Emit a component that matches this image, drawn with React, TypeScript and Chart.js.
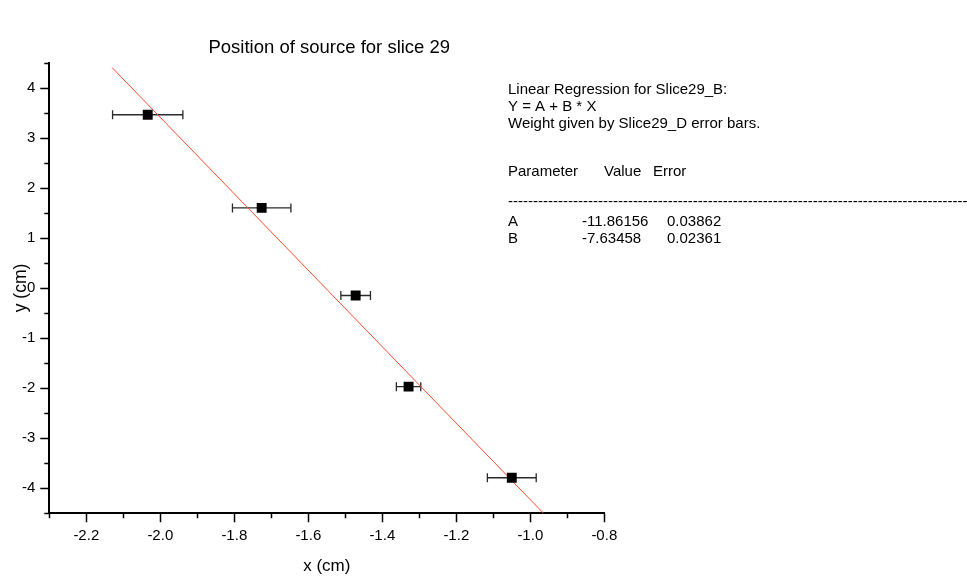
import React, { useEffect, useRef } from 'react';
import { Chart, registerables } from 'chart.js';

Chart.register(...registerables);

// ---- data ----
const xValues = [-2.034, -1.726, -1.472, -1.329, -1.05];
const yValues = [3.46, 1.6, -0.15, -1.97, -3.79];
const xErrors = [0.095, 0.079, 0.04, 0.033, 0.066];
const fitA = -11.86156;
const fitB = -7.63458;
const fitXRange = [-2.13, -0.95];

const chartTitle = 'Position of source for slice 29';
const xAxisTitle = 'x (cm)';
const yAxisTitle = 'y (cm)';
const infoLines = ['Linear Regression for Slice29_B:', 'Y = A + B * X', 'Weight given by Slice29_D error bars.'];
const tableHeader = ['Parameter', 'Value', 'Error'];
const paramNames = ['A', 'B'];
const paramValues = ['-11.86156', '-7.63458'];
const paramErrors = ['0.03862', '0.02361'];

const FONT = '"Liberation Sans", Arial, sans-serif';

const overlayPlugin = {
  id: 'overlay',
  beforeDatasetsDraw(chart: any) {
    const { ctx, scales } = chart;
    const xs = scales.x;
    const ys = scales.y;
    ctx.save();
    ctx.strokeStyle = '#2a2a2a';
    ctx.lineWidth = 1.3;
    for (let i = 0; i < xValues.length; i++) {
      const x1 = xs.getPixelForValue(xValues[i] - xErrors[i]);
      const x2 = xs.getPixelForValue(xValues[i] + xErrors[i]);
      const py = ys.getPixelForValue(yValues[i]);
      ctx.beginPath();
      ctx.moveTo(x1, py);
      ctx.lineTo(x2, py);
      ctx.moveTo(x1, py - 4.5);
      ctx.lineTo(x1, py + 4.5);
      ctx.moveTo(x2, py - 4.5);
      ctx.lineTo(x2, py + 4.5);
      ctx.stroke();
    }
    ctx.restore();
  },
  afterDraw(chart: any) {
    const { ctx, scales, chartArea } = chart;
    const xs = scales.x;
    const ys = scales.y;
    ctx.save();
    // ticks
    ctx.strokeStyle = '#000';
    ctx.lineWidth = 1.5;
    ctx.beginPath();
    ys.ticks.forEach((t: any) => {
      const v = t.value;
      const major = Math.abs(v - Math.round(v)) < 1e-6;
      const py = Math.round(ys.getPixelForValue(v)) + 0.5;
      ctx.moveTo(chartArea.left, py);
      ctx.lineTo(chartArea.left - (major ? 9 : 5), py);
    });
    xs.ticks.forEach((t: any) => {
      const v = t.value;
      const major = Math.round(Math.abs(v) * 10) % 2 === 0;
      const px = Math.round(xs.getPixelForValue(v)) + 0.5;
      ctx.moveTo(px, chartArea.bottom);
      ctx.lineTo(px, chartArea.bottom + (major ? 9 : 5));
    });
    ctx.stroke();

    // title
    ctx.fillStyle = '#000';
    ctx.textBaseline = 'middle';
    ctx.textAlign = 'center';
    ctx.font = `18.5px ${FONT}`;
    ctx.fillText(chartTitle, (chartArea.left + chartArea.right) / 2 + 2.5, 48);

    // info box
    ctx.textAlign = 'left';
    ctx.font = `15px ${FONT}`;
    const left = 508;
    const lineYs = [90, 107, 124];
    infoLines.forEach((s, i) => ctx.fillText(s, left, lineYs[i]));
    const headerX = [508, 604, 653];
    tableHeader.forEach((s, i) => ctx.fillText(s, headerX[i], 172));
    ctx.fillText('-'.repeat(120), left, 202);
    const rowYs = [222, 239];
    paramNames.forEach((s, i) => {
      ctx.fillText(s, 508, rowYs[i]);
      ctx.fillText(paramValues[i], 582, rowYs[i]);
      ctx.fillText(paramErrors[i], 667, rowYs[i]);
    });
    ctx.restore();
  },
};

export default function App() {
  const ref = useRef<HTMLCanvasElement | null>(null);
  useEffect(() => {
    if (!ref.current) return;
    const points = xValues.map((x, i) => ({ x, y: yValues[i] }));
    const fitPoints = fitXRange.map((x) => ({ x, y: fitA + fitB * x }));
    const chart = new Chart(ref.current, {
      type: 'scatter',
      data: {
        datasets: [
          {
            label: 'Slice29_B',
            data: points,
            pointStyle: 'rect',
            pointRadius: 7,
            pointHoverRadius: 7,
            backgroundColor: '#000',
            borderColor: '#000',
            borderWidth: 0,
          },
          {
            label: 'Fit',
            data: fitPoints,
            showLine: true,
            pointRadius: 0,
            borderColor: 'rgb(255,75,45)',
            borderWidth: 1,
            backgroundColor: 'rgb(255,75,45)',
          },
        ],
      },
      options: {
        responsive: false,
        animation: false,
        devicePixelRatio: 1,
        layout: { padding: { left: 0, top: 62.7, right: 362.7, bottom: 0 } },
        plugins: { legend: { display: false }, tooltip: { enabled: false }, title: { display: false } },
        scales: {
          x: {
            type: 'linear',
            min: -2.3,
            max: -0.8,
            afterFit: (s: any) => {
              s.height = 66.7;
            },
            grid: { display: false, drawTicks: true, tickLength: 9 },
            border: { display: true, color: '#000', width: 2 },
            ticks: {
              stepSize: 0.1,
              autoSkip: false,
              maxRotation: 0,
              padding: 5,
              color: '#000',
              font: { family: FONT, size: 15 },
              callback: (v: any) => {
                const n = Number(v);
                return Math.round(Math.abs(n) * 10) % 2 === 0 ? n.toFixed(1) : '';
              },
            },
            title: {
              display: true,
              text: xAxisTitle,
              color: '#000',
              font: { family: FONT, size: 17 },
              padding: { top: 0, bottom: 3 },
            },
          },
          y: {
            type: 'linear',
            min: -4.5,
            max: 4.5,
            afterFit: (s: any) => {
              s.width = 49.3;
            },
            grid: { display: false, drawTicks: true, tickLength: 9 },
            border: { display: true, color: '#000', width: 2 },
            ticks: {
              stepSize: 0.5,
              autoSkip: false,
              padding: 5,
              color: '#000',
              font: { family: FONT, size: 15 },
              callback: (v: any) => {
                const n = Number(v);
                return Math.abs(n - Math.round(n)) < 1e-6 ? String(Math.round(n)) : '';
              },
            },
            title: {
              display: true,
              text: yAxisTitle,
              color: '#000',
              font: { family: FONT, size: 17.5 },
              padding: { top: 11, bottom: 0 },
            },
          },
        },
      },
      plugins: [overlayPlugin],
    });
    return () => chart.destroy();
  }, []);
  return (
    <div style={{ position: 'absolute', left: 0, top: 0, width: 967, height: 580, background: '#fff' }}>
      <canvas ref={ref} width={967} height={580} />
    </div>
  );
}
